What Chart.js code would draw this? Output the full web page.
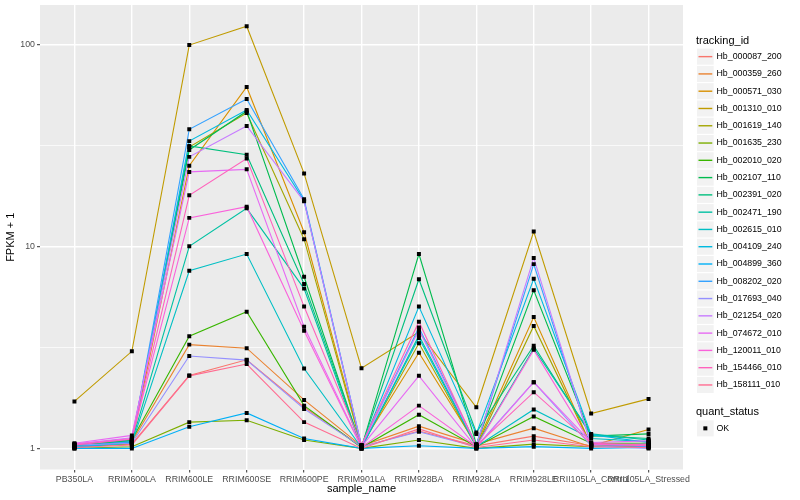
<!DOCTYPE html>
<html>
<head>
<meta charset="utf-8">
<script src="https://cdn.jsdelivr.net/npm/chart.js@4.4.1/dist/chart.umd.min.js"></script>
<style>
  html, body { margin: 0; padding: 0; background: #fff; }
</style>
</head>
<body>
<canvas id="fpkmChart" width="800" height="500"></canvas>
<script>
// data
const categories = ['PB350LA', 'RRIM600LA', 'RRIM600LE', 'RRIM600SE', 'RRIM600PE', 'RRIM901LA',
  'RRIM928BA', 'RRIM928LA', 'RRIM928LE', 'RRII105LA_Control', 'RRII105LA_Stressed'];

const trackingIds = ['Hb_000087_200', 'Hb_000359_260', 'Hb_000571_030', 'Hb_001310_010', 'Hb_001619_140',
  'Hb_001635_230', 'Hb_002010_020', 'Hb_002107_110', 'Hb_002391_020', 'Hb_002471_190',
  'Hb_002615_010', 'Hb_004109_240', 'Hb_004899_360', 'Hb_008202_020', 'Hb_017693_040',
  'Hb_021254_020', 'Hb_074672_010', 'Hb_120011_010', 'Hb_154466_010', 'Hb_158111_010'];

const hb_000087_200 = [1.02, 1.05, 2.3, 2.75, 1.6, 1.02, 1.22, 1.03, 1.15, 1.03, 1.02];
const hb_000359_260 = [1.03, 1.08, 3.27, 3.14, 1.74, 1.03, 1.29, 1.05, 1.26, 1.02, 1.05];
const hb_000571_030 = [1.01, 1.06, 25.2, 62, 11.8, 1.04, 2.98, 1.04, 4.48, 1.03, 1.24];
const hb_001310_010 = [1.71, 3.03, 100, 124, 23.1, 2.5, 3.78, 1.6, 11.9, 1.49, 1.76];
const hb_001619_140 = [1.02, 1.07, 31.2, 46, 10.9, 1.02, 3.32, 1.02, 4.05, 1.03, 1.04];
const hb_001635_230 = [1.0, 1.02, 1.35, 1.38, 1.1, 1.0, 1.1, 1.0, 1.05, 1.02, 1.03];
const hb_002010_020 = [1.03, 1.1, 3.6, 4.76, 1.63, 1.01, 1.47, 1.02, 1.44, 1.06, 1.06];
const hb_002107_110 = [1.04, 1.09, 30.2, 47, 7.1, 1.01, 9.2, 1.05, 6.08, 1.15, 1.18];
const hb_002391_020 = [1.05, 1.1, 31.6, 28.6, 6.54, 1.02, 6.9, 1.2, 3.23, 1.16, 1.12];
const hb_002471_190 = [1.03, 1.08, 10.05, 15.5, 6.2, 1.0, 3.63, 1.03, 3.13, 1.18, 1.1];
const hb_002615_010 = [1.02, 1.06, 7.6, 9.2, 2.49, 1.01, 3.53, 1.02, 1.56, 1.12, 1.08];
const hb_004109_240 = [1.01, 1.07, 33.4, 47.7, 16.9, 1.02, 5.05, 1.18, 6.94, 1.17, 1.07];
const hb_004899_360 = [1.0, 1.0, 1.28, 1.5, 1.12, 1.0, 1.03, 1.0, 1.02, 1.0, 1.01];
const hb_008202_020 = [1.02, 1.08, 38.2, 54, 17.2, 1.03, 3.98, 1.04, 8.2, 1.05, 1.02];
const hb_017693_040 = [1.04, 1.06, 2.87, 2.74, 1.57, 1.02, 1.21, 1.02, 2.13, 1.03, 1.0];
const hb_021254_020 = [1.05, 1.13, 27.9, 39.7, 16.8, 1.03, 3.88, 1.03, 8.8, 1.04, 1.05];
const hb_074672_010 = [1.06, 1.16, 23.5, 24.2, 4.01, 1.02, 2.29, 1.01, 2.13, 1.07, 1.09];
const hb_120011_010 = [1.05, 1.12, 13.9, 15.8, 3.83, 1.01, 1.63, 1.02, 3.08, 1.05, 1.03];
const hb_154466_010 = [1.04, 1.11, 18.0, 27.4, 5.05, 1.04, 4.25, 1.03, 1.9, 1.06, 1.04];
const hb_158111_010 = [1.01, 1.04, 2.29, 2.62, 1.35, 1.0, 1.25, 1.01, 1.1, 1.02, 1.01];

const seriesValues = [hb_000087_200, hb_000359_260, hb_000571_030, hb_001310_010, hb_001619_140,
  hb_001635_230, hb_002010_020, hb_002107_110, hb_002391_020, hb_002471_190,
  hb_002615_010, hb_004109_240, hb_004899_360, hb_008202_020, hb_017693_040,
  hb_021254_020, hb_074672_010, hb_120011_010, hb_154466_010, hb_158111_010];

const yMajorTicks = [1, 10, 100];
const yMinorTicks = [3.1623, 31.623];

// ggplot hue palette, 20 levels
const palette = ['#F8766D', '#EA8331', '#D89000', '#C09B00', '#A3A500', '#7CAE00', '#39B600', '#00BB4E',
  '#00BF7D', '#00C1A3', '#00BFC4', '#00BAE0', '#00B0F6', '#35A2FF', '#9590FF', '#C77CFF',
  '#E76BF3', '#FA62DB', '#FF62BC', '#FF6C91'];

const FONT = '"Liberation Sans", Arial, Helvetica, sans-serif';
Chart.defaults.font.family = FONT;

// panel background
const panelBg = {
  id: 'panelBg',
  beforeDraw(chart) {
    const { ctx, chartArea: a } = chart;
    ctx.save();
    ctx.fillStyle = '#fff';
    ctx.fillRect(0, 0, chart.width, chart.height);
    ctx.fillStyle = '#EBEBEB';
    ctx.fillRect(a.left, a.top, a.right - a.left, a.bottom - a.top);
    ctx.restore();
  }
};

// ggplot-like legend on the right
const ggLegend = {
  id: 'ggLegend',
  afterDraw(chart) {
    const ctx = chart.ctx;
    const x0 = 697, key = 17.28;
    ctx.save();
    ctx.textBaseline = 'middle';
    ctx.textAlign = 'left';
    ctx.fillStyle = '#000';
    ctx.font = '11px ' + FONT;
    ctx.fillText('tracking_id', x0 - 1, 40.5);
    let y = 48;
    trackingIds.forEach((id, i) => {
      ctx.fillStyle = '#F2F2F2';
      ctx.fillRect(x0, y + 0.6, key - 0.6, key - 1.2);
      ctx.strokeStyle = palette[i];
      ctx.lineWidth = 1.4;
      ctx.beginPath();
      ctx.moveTo(x0 + 1.5, y + key / 2);
      ctx.lineTo(x0 + key - 2, y + key / 2);
      ctx.stroke();
      ctx.fillStyle = '#000';
      ctx.font = '8.8px ' + FONT;
      ctx.fillText(id, x0 + 19.5, y + key / 2);
      y += key;
    });
    ctx.font = '11px ' + FONT;
    ctx.fillText('quant_status', x0 - 1, 411.7);
    const ky = 419.7;
    ctx.fillStyle = '#F2F2F2';
    ctx.fillRect(x0, ky + 0.6, key - 0.6, key - 1.2);
    ctx.fillStyle = '#000';
    ctx.fillRect(x0 + key / 2 - 2.3, ky + key / 2 - 2, 4, 4);
    ctx.font = '8.8px ' + FONT;
    ctx.fillText('OK', x0 + 19.5, ky + key / 2);
    ctx.restore();
  }
};

const lineSets = seriesValues.map((vals, i) => ({
  label: trackingIds[i],
  data: vals.map((v, j) => ({ x: j, y: v })),
  borderColor: palette[i],
  borderWidth: 1.1,
  pointRadius: 0,
  pointHoverRadius: 0,
  tension: 0,
  fill: false,
  order: 100 - i
}));

const pointSet = {
  label: 'OK',
  data: seriesValues.flatMap(vals => vals.map((v, j) => ({ x: j, y: v }))),
  showLine: false,
  pointStyle: 'rect',
  pointRadius: 2.8,
  pointBackgroundColor: '#000',
  pointBorderWidth: 0,
  order: 0
};

const isMajorY = v => yMajorTicks.some(m => Math.abs(m - v) < 1e-6);

new Chart(document.getElementById('fpkmChart').getContext('2d'), {
  type: 'line',
  data: { datasets: [...lineSets, pointSet] },
  options: {
    responsive: false,
    animation: false,
    layout: { padding: { top: 5, right: 117, bottom: 0, left: 0 } },
    plugins: {
      legend: { display: false },
      tooltip: { enabled: false }
    },
    scales: {
      x: {
        type: 'linear',
        min: -0.6,
        max: 10.6,
        afterBuildTicks: s => { s.ticks = categories.map((c, i) => ({ value: i })); },
        afterFit: s => { s.height = 30.5; s.paddingLeft = 0; s.paddingRight = 0; },
        ticks: {
          autoSkip: false,
          maxRotation: 0,
          padding: 2,
          color: '#4D4D4D',
          font: { size: 8.8 },
          callback: v => categories[v]
        },
        grid: { color: '#FFFFFF', lineWidth: 1.4, tickColor: '#333333', tickLength: 3, tickWidth: 1 },
        border: { display: false },
        title: { display: true, text: 'sample_name', color: '#000', font: { size: 11 }, padding: { top: 0, bottom: 4.4 } }
      },
      y: {
        type: 'logarithmic',
        min: 0.786,
        max: 158,
        afterBuildTicks: s => { s.ticks = [...yMajorTicks, ...yMinorTicks].sort((a, b) => a - b).map(v => ({ value: v })); },
        afterFit: s => { s.width = 40; s.paddingTop = 0; s.paddingBottom = 0; },
        ticks: {
          padding: 2,
          color: '#4D4D4D',
          font: { size: 8.8 },
          callback: v => (isMajorY(v) ? String(Math.round(v)) : '')
        },
        grid: {
          color: '#FFFFFF',
          lineWidth: c => (c.tick && isMajorY(c.tick.value) ? 1.4 : 0.7),
          tickColor: c => (c.tick && isMajorY(c.tick.value) ? '#333333' : 'rgba(0,0,0,0)'),
          tickLength: 3,
          tickWidth: 1
        },
        border: { display: false },
        title: { display: true, text: 'FPKM + 1', color: '#000', font: { size: 11 }, padding: { top: 4.4, bottom: 0 } }
      }
    }
  },
  plugins: [panelBg, ggLegend]
});
</script>
</body>
</html>
